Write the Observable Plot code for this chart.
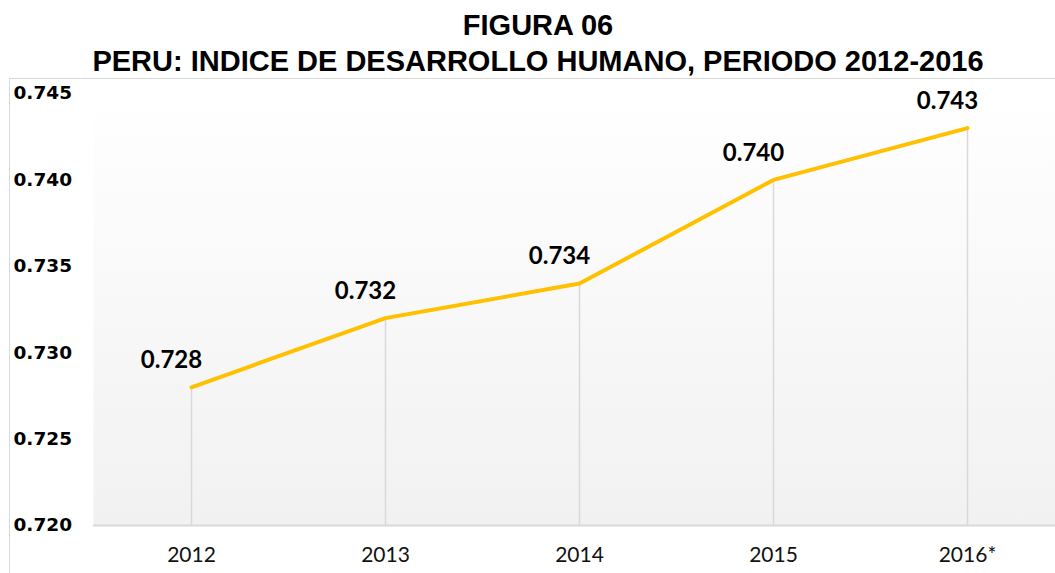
<!DOCTYPE html>
<html>
<head>
<meta charset="utf-8">
<script src="https://cdn.jsdelivr.net/npm/d3@7"></script>
<script src="https://cdn.jsdelivr.net/npm/@observablehq/plot@0.6"></script>
<style>
  html, body { margin: 0; padding: 0; background: #fff; }
  #wrap { position: relative; width: 1055px; height: 573px; overflow: hidden; }
  #title { position: absolute; top: 7px; left: 21px; width: 1034px; text-align: center;
    font-family: "Liberation Sans", Arial, sans-serif; font-weight: bold; font-size: 29px; line-height: 36px; color: #000; }
  #border { position: absolute; left: 9px; top: 78px; width: 2000px; height: 1000px;
    border-left: 1.5px solid #d9d9d9; border-top: 1.5px solid #d9d9d9; }
  #chart { position: absolute; left: 0; top: 80px; }
</style>
</head>
<body>
<div id="wrap">
  <div id="title">FIGURA 06<br>PERU: INDICE DE DESARROLLO HUMANO, PERIODO 2012-2016</div>
  <div id="border"></div>
  <div id="chart"></div>
</div>
<script>
const years = ["2012", "2013", "2014", "2015", "2016*"];
const values = [0.728, 0.732, 0.734, 0.740, 0.743];
const yTicks = [0.720, 0.725, 0.730, 0.735, 0.740, 0.745];

const data = years.map((year, i) => ({year, value: values[i]}));
const fmt = d3.format(".3f");

const chart = Plot.plot({
  width: 1055,
  height: 493,
  marginTop: 13,
  marginBottom: 48,
  marginLeft: 93,
  marginRight: 0,
  style: {background: "transparent", overflow: "visible"},
  x: {type: "point", domain: years, range: [190, 968], padding: 0},
  y: {domain: [yTicks[0], yTicks[yTicks.length - 1]]},
  marks: [
    Plot.frame({fill: "url(#bg)", stroke: "none"}),
    Plot.ruleX(data, {x: "year", y1: () => yTicks[0], y2: "value", stroke: "#d9d9d9", strokeWidth: 1.5}),
    Plot.ruleY([yTicks[0]], {stroke: "#d9d9d9", strokeWidth: 2}),
    Plot.line(data, {x: "year", y: "value", stroke: "#FFC000", strokeWidth: 4}),
    Plot.text(data, {x: "year", y: "value", text: d => fmt(d.value), dx: -20, dy: -27,
      fontSize: 24, fontWeight: "bold", fontFamily: "Lato", fill: "#000"}),
    Plot.axisY({ticks: yTicks, tickSize: 0, tickPadding: 0, textAnchor: "start", dx: -80,
      tickFormat: fmt, fontSize: 18.5, fontWeight: "bold", fontFamily: "DejaVu Sans", fill: "#000", label: null}),
    Plot.axisX({tickSize: 0, tickPadding: 22, fontSize: 21, fontFamily: "Lato", fill: "#111", label: null})
  ]
});

const svg = d3.select(chart);
svg.insert("defs", ":first-child").html(
  '<linearGradient id="bg" x1="0" y1="0" x2="0" y2="1">' +
  '<stop offset="0" stop-color="#ffffff"/>' +
  '<stop offset="1" stop-color="#f1f1f1"/>' +
  '</linearGradient>');
document.getElementById("chart").appendChild(chart);
</script>
</body>
</html>
